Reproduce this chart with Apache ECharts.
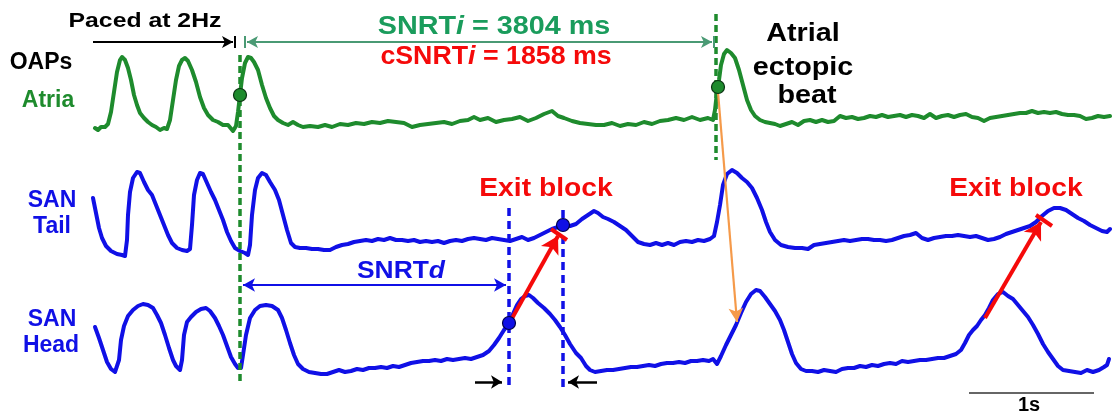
<!DOCTYPE html>
<html><head><meta charset="utf-8">
<script src="https://cdn.jsdelivr.net/npm/echarts/dist/echarts.min.js"></script>
<style>html,body{margin:0;padding:0;background:#fff}#c{width:1117px;height:417px}</style>
</head><body><div id="c"></div><script>
// ---- DATA (time in ms, amplitude in a.u.) ----
const atria = [[0,7],[24,5],[48,8],[80,8],[104,11],[128,23],[152,43],[176,63],[200,75],[216,78],[240,75],[264,67],[288,55],[312,40],[336,30],[360,22],[392,17],[424,13],[456,10],[488,8],[520,5],[552,7],[576,6],[600,15],[624,35],[648,55],[672,69],[696,75],[720,77],[744,74],[776,65],[808,53],[840,38],[872,27],[904,20],[944,15],[984,13],[1024,10],[1064,10],[1104,4],[1128,9],[1144,23],[1160,40],[1176,57],[1200,72],[1224,78],[1248,77],[1272,73],[1304,65],[1336,50],[1368,37],[1400,27],[1432,19],[1464,15],[1504,12],[1544,10],[1584,13],[1624,10],[1664,8],[1720,9],[1784,8],[1840,10],[1896,8],[1960,11],[2024,10],[2088,12],[2152,11],[2216,13],[2280,12],[2344,14],[2408,13],[2472,12],[2536,8],[2600,10],[2664,11],[2728,12],[2792,13],[2856,11],[2920,14],[2984,15],[3032,18],[3080,15],[3144,17],[3208,13],[3272,15],[3336,16],[3400,18],[3464,14],[3528,17],[3592,21],[3656,24],[3704,19],[3752,17],[3816,14],[3880,12],[3944,11],[4008,10],[4072,10],[4136,12],[4200,9],[4264,11],[4328,10],[4392,13],[4456,11],[4520,14],[4584,15],[4648,17],[4712,15],[4776,18],[4840,15],[4904,17],[4944,15],[4960,25],[4976,43],[4992,55],[5008,70],[5032,81],[5056,85],[5088,82],[5120,77],[5152,65],[5184,50],[5216,35],[5248,25],[5280,19],[5320,15],[5360,13],[5400,12],[5440,11],[5480,9],[5528,11],[5576,13],[5624,10],[5672,14],[5720,15],[5768,13],[5816,15],[5864,13],[5912,14],[5960,19],[6008,17],[6056,18],[6104,16],[6152,17],[6200,19],[6248,18],[6296,20],[6344,18],[6392,19],[6440,20],[6488,18],[6536,20],[6584,19],[6632,17],[6680,21],[6728,17],[6776,19],[6824,20],[6872,18],[6920,20],[6968,21],[7016,18],[7064,17],[7112,14],[7160,17],[7208,18],[7256,19],[7304,20],[7352,21],[7400,22],[7448,22],[7496,24],[7544,22],[7592,23],[7640,22],[7688,23],[7736,21],[7784,20],[7832,20],[7880,19],[7928,16],[7976,17],[8024,19],[8072,18],[8120,19]];

const sanTail = [[-16,60],[8,45],[32,30],[56,20],[88,12],[128,7],[176,4],[216,3],[240,2],[256,18],[264,43],[280,66],[304,80],[336,86],[360,85],[392,76],[424,68],[456,63],[488,53],[520,43],[552,33],[584,23],[616,15],[656,10],[696,8],[736,7],[760,9],[776,33],[792,63],[816,78],[840,85],[864,84],[896,75],[928,66],[960,58],[992,48],[1024,38],[1056,26],[1088,17],[1120,10],[1160,7],[1200,5],[1224,3],[1240,13],[1256,43],[1280,68],[1304,80],[1336,85],[1368,83],[1400,76],[1440,68],[1472,58],[1504,43],[1536,28],[1568,15],[1600,11],[1640,10],[1688,10],[1736,9],[1784,9],[1832,8],[1880,8],[1928,11],[1976,13],[2024,14],[2072,16],[2120,17],[2168,18],[2216,17],[2264,19],[2312,18],[2360,20],[2408,18],[2456,18],[2504,17],[2552,18],[2600,16],[2648,17],[2696,16],[2744,17],[2792,15],[2840,17],[2888,18],[2936,17],[2984,19],[3032,20],[3080,19],[3128,18],[3176,20],[3224,19],[3272,18],[3320,17],[3368,19],[3416,21],[3464,18],[3512,20],[3560,23],[3608,26],[3656,29],[3704,31],[3752,32],[3800,32],[3848,34],[3896,39],[3944,43],[3992,47],[4024,45],[4064,41],[4104,39],[4152,36],[4200,32],[4248,28],[4296,22],[4344,16],[4392,14],[4440,13],[4488,15],[4536,13],[4584,15],[4632,13],[4680,16],[4728,17],[4776,16],[4824,18],[4872,17],[4920,19],[4952,22],[4976,36],[5000,53],[5024,73],[5056,84],[5096,88],[5136,85],[5176,80],[5216,76],[5256,70],[5296,60],[5336,48],[5368,36],[5400,26],[5440,18],[5488,13],[5544,11],[5600,10],[5656,10],[5704,9],[5752,13],[5800,14],[5848,15],[5896,16],[5944,17],[5992,18],[6040,17],[6088,18],[6136,19],[6184,19],[6232,18],[6280,18],[6328,17],[6376,18],[6424,20],[6472,22],[6520,23],[6568,25],[6616,20],[6664,18],[6712,20],[6760,21],[6808,22],[6856,22],[6904,23],[6952,22],[7000,21],[7048,22],[7096,20],[7144,18],[7192,19],[7240,21],[7288,24],[7336,26],[7384,28],[7432,30],[7480,32],[7528,36],[7576,42],[7624,47],[7672,50],[7720,50],[7768,48],[7816,44],[7864,40],[7912,37],[7960,33],[8008,30],[8056,27],[8096,26],[8120,29]];

const sanHead = [[0,51],[32,40],[64,28],[96,16],[128,9],[160,6],[176,4],[192,18],[208,38],[232,52],[264,62],[304,68],[344,72],[384,74],[424,73],[464,70],[496,63],[528,55],[560,43],[592,30],[624,18],[648,12],[680,8],[696,18],[712,43],[736,56],[768,61],[808,66],[848,69],[888,70],[920,67],[960,60],[992,52],[1024,43],[1056,32],[1088,21],[1120,14],[1144,10],[1168,10],[1184,23],[1208,43],[1240,60],[1280,68],[1320,72],[1368,73],[1416,72],[1464,68],[1496,60],[1528,48],[1560,35],[1592,23],[1624,14],[1664,9],[1712,6],[1760,5],[1808,4],[1856,4],[1904,6],[1952,8],[2000,6],[2048,7],[2096,9],[2144,8],[2192,10],[2240,10],[2288,11],[2336,10],[2384,12],[2432,11],[2480,13],[2528,15],[2576,16],[2624,17],[2672,17],[2720,18],[2768,17],[2816,19],[2864,18],[2912,19],[2960,20],[3008,19],[3056,21],[3104,23],[3152,27],[3192,33],[3232,40],[3272,48],[3312,55],[3344,64],[3376,73],[3408,79],[3440,82],[3472,83],[3504,80],[3544,75],[3592,70],[3640,64],[3680,58],[3720,51],[3760,43],[3800,34],[3848,25],[3888,20],[3928,12],[3960,8],[4000,6],[4048,7],[4096,8],[4144,8],[4192,9],[4240,10],[4288,11],[4336,11],[4384,12],[4432,13],[4480,12],[4528,14],[4576,15],[4624,15],[4672,16],[4720,15],[4768,17],[4816,17],[4864,18],[4912,17],[4944,19],[4976,14],[5008,22],[5048,33],[5088,43],[5128,53],[5168,65],[5208,76],[5248,84],[5288,88],[5320,87],[5360,81],[5400,74],[5440,67],[5480,58],[5512,48],[5544,36],[5576,24],[5608,15],[5648,9],[5688,7],[5736,7],[5784,6],[5832,8],[5880,7],[5928,6],[5976,9],[6024,10],[6072,10],[6120,12],[6168,11],[6216,13],[6264,12],[6312,14],[6360,15],[6408,14],[6456,17],[6504,16],[6552,17],[6600,18],[6648,18],[6696,19],[6744,20],[6792,20],[6840,22],[6888,24],[6928,28],[6960,35],[6992,43],[7024,48],[7056,52],[7088,58],[7120,63],[7152,70],[7184,78],[7224,84],[7264,86],[7304,82],[7344,79],[7384,73],[7424,67],[7464,61],[7504,53],[7544,44],[7584,34],[7624,26],[7664,19],[7704,12],[7744,8],[7792,7],[7840,6],[7888,5],[7936,8],[7984,6],[8032,8],[8072,11],[8096,13],[8112,19]];

// activation points
const atriaDots = [[1160, 40], [4984, 48]];
const tailDots = [[3744, 33]];
const headDots = [[3312, 55]];

// event times (ms)
const pacingEnd = 1160;      // last paced beat
const ectopicTime = 4968;    // atrial ectopic beat
const exitStart = 3312;      // head activation
const exitEnd = 3744;        // tail activation
const scaleBar = [6992, 7992]; // 1 s

// ---- STYLE ----
const F = '"Liberation Sans", Arial, Helvetica, sans-serif';
const GREEN = '#1e8b2d', GREEN_T = '#1a9c5c', GREEN_A = '#4a9a74';
const BLUE = '#1010e6', RED = '#f50a0a', ORANGE = '#f59a4a';

const chart = echarts.init(document.getElementById('c'), null, {renderer: 'canvas'});

const L = 90, R = 7;
const xMin = -40, xMax = 8120;
function xa(i) { return {type: 'value', gridIndex: i, min: xMin, max: xMax, show: false}; }

function seg(p1, p2, color, width, s1, s2, size, type) {
  return [
    {coord: p1, symbol: s1 || 'none', symbolSize: size || 10, lineStyle: {color: color, width: width, type: type || 'solid', cap: 'butt'}},
    {coord: p2, symbol: s2 || 'none', symbolSize: size || 10}
  ];
}

function txt(x, y, text, size, color, sx, rich) {
  const st = {text: text, font: 'bold ' + size + 'px ' + F, fill: color, textAlign: 'center', textVerticalAlign: 'middle'};
  if (rich) st.rich = rich;
  return {type: 'text', x: x, y: y, scaleX: sx || 1, z: 100, style: st};
}
function richDef(size, color) {
  return {
    a: {fontSize: size, fontWeight: 'bold', fontFamily: F, fill: color, color: color},
    b: {fontSize: size, fontWeight: 'bold', fontStyle: 'italic', fontFamily: F, fill: color, color: color}
  };
}

const arrowLines = [
  // Paced at 2Hz arrow
  seg([-16, 42], [1104, 42], '#000', 2, 'none', 'arrow', [9, 11]),
  seg([1120, 36], [1120, 48], '#000', 2),
  // SNRTi arrow
  seg([1216, 42], [4936, 42], GREEN_A, 2, 'arrow', 'arrow', [9, 11]),
  seg([1200, 36], [1200, 48], GREEN_A, 2),
  seg([4952, 36], [4952, 48], GREEN_A, 2),
  // SNRTd arrow
  seg([1184, 285], [3288, 285], BLUE, 2, 'arrow', 'arrow', [10, 12]),
  // small black arrows
  seg([3040, 382], [3256, 382], '#000', 2.5, 'none', 'arrow', [10, 11]),
  seg([4016, 382], [3784, 382], '#000', 2.5, 'none', 'arrow', [10, 11]),
  // exit block arrows
  seg([exitStart + 8, 322], [3704, 236], RED, 4, 'none', 'arrow', [15, 17]),
  seg([3648, 229], [3776, 240], RED, 4),
  seg([7120, 318], [7568, 222], RED, 4, 'none', 'arrow', [15, 17]),
  seg([7528, 215], [7656, 226], RED, 4),
  // orange conduction arrow
  seg([4984, 92], [5136, 322], ORANGE, 2.2, 'none', 'arrow', [11, 14]),
  // scale bar
  seg([scaleBar[0], 393], [scaleBar[1], 393], '#666', 2)
];

const dashLines = [
  seg([pacingEnd, 55], [pacingEnd, 383], GREEN, 3.5, 'none', 'none', 1, [7, 4]),
  seg([ectopicTime, 14], [ectopicTime, 160], GREEN, 3.5, 'none', 'none', 1, [7, 4]),
  seg([exitStart, 208], [exitStart, 388], BLUE, 3.5, 'none', 'none', 1, [8, 5]),
  seg([exitEnd, 210], [exitEnd, 388], BLUE, 3.5, 'none', 'none', 1, [8, 5])
];

function trace(data, gi, color) {
  return {type: 'line', xAxisIndex: gi, yAxisIndex: gi, data: data, showSymbol: false, symbol: 'none',
    lineStyle: {color: color, width: 4, join: 'round', cap: 'round'}, z: 3, silent: true, animation: false};
}
function dots(data, gi, color, border) {
  return {type: 'scatter', xAxisIndex: gi, yAxisIndex: gi, data: data, symbolSize: 13,
    itemStyle: {color: color, borderColor: border, borderWidth: 1.2, opacity: 1}, z: 10, silent: true, animation: false};
}

const option = {
  animation: false,
  backgroundColor: '#fff',
  grid: [
    {left: L, right: R, top: 45, height: 90},
    {left: L, right: R, top: 163, height: 95},
    {left: L, right: R, top: 283, height: 95},
    {left: 0, right: 0, top: 0, bottom: 0}
  ],
  xAxis: [xa(0), xa(1), xa(2), {type: 'value', gridIndex: 3, min: -760, max: 8176, show: false}],
  yAxis: [
    {type: 'value', gridIndex: 0, min: 0, max: 90, show: false},
    {type: 'value', gridIndex: 1, min: 0, max: 95, show: false},
    {type: 'value', gridIndex: 2, min: 0, max: 95, show: false},
    {type: 'value', gridIndex: 3, min: 0, max: 417, inverse: true, show: false}
  ],
  series: [
    {type: 'line', xAxisIndex: 3, yAxisIndex: 3, data: [], z: 1, silent: true, animation: false,
      markLine: {silent: true, animation: false, symbol: ['none', 'none'], label: {show: false}, emphasis: {disabled: true}, data: dashLines}},
    trace(atria, 0, GREEN),
    trace(sanTail, 1, BLUE),
    trace(sanHead, 2, BLUE),
    {type: 'line', xAxisIndex: 3, yAxisIndex: 3, data: [], z: 5, silent: true, animation: false,
      markLine: {silent: true, animation: false, symbol: ['none', 'none'], label: {show: false}, emphasis: {disabled: true}, data: arrowLines}},
    dots(atriaDots, 0, GREEN, '#0b3312'),
    dots(tailDots, 1, BLUE, '#00004a'),
    dots(headDots, 2, BLUE, '#00004a')
  ],
  graphic: [
    txt(145, 21, 'Paced at 2Hz', 21, '#000', 1.18),
    txt(494, 27, '{a|SNRT}{b|i}{a| = 3804 ms}', 25, GREEN_T, 1.15, richDef(25, GREEN_T)),
    txt(496, 57, '{a|cSNRT}{b|i}{a| = 1858 ms}', 25, RED, 1.07, richDef(25, RED)),
    txt(41, 63, 'OAPs', 23, '#000'),
    txt(48, 101, 'Atria', 23, GREEN),
    txt(803, 34, 'Atrial', 25, '#000', 1.15),
    txt(803, 68, 'ectopic', 25, '#000', 1.15),
    txt(807, 96, 'beat', 25, '#000', 1.15),
    txt(52, 201, 'SAN', 23, BLUE),
    txt(52, 227, 'Tail', 23, BLUE),
    txt(52, 320, 'SAN', 23, BLUE),
    txt(51, 346, 'Head', 23, BLUE),
    txt(546, 189, 'Exit block', 25, RED, 1.13),
    txt(1016, 189, 'Exit block', 25, RED, 1.13),
    txt(401, 271, '{a|SNRT}{b|d}', 24, BLUE, 1.1, richDef(24, BLUE)),
    txt(1029, 405, '1s', 20, '#000')
  ]
};
chart.setOption(option);
</script></body></html>
